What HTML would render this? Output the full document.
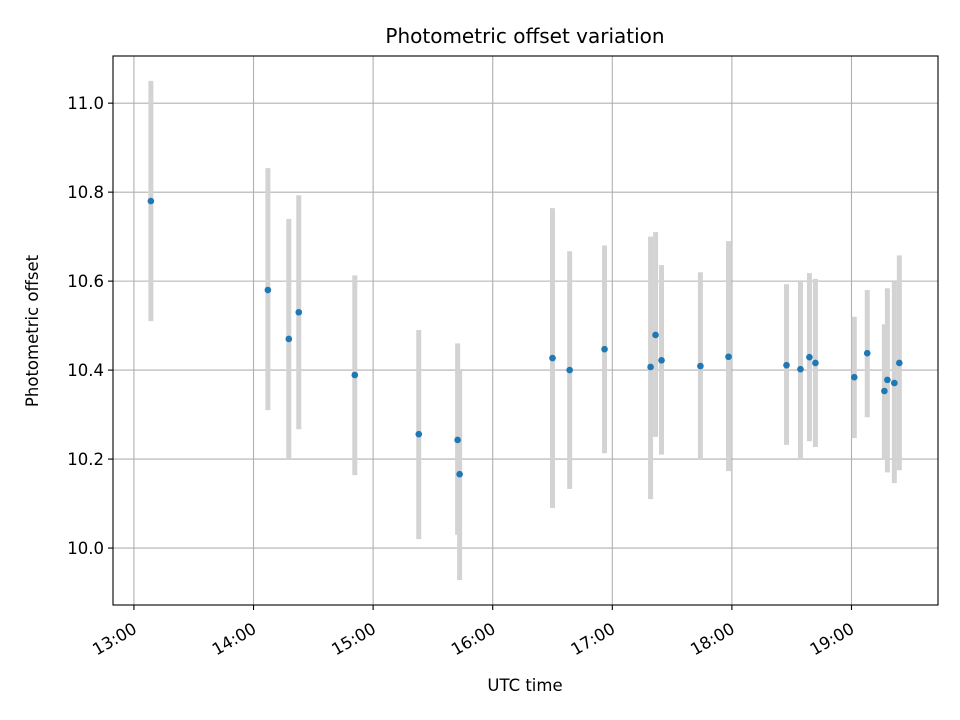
<!DOCTYPE html>
<html><head><meta charset="utf-8"><style>
html,body{margin:0;padding:0;background:#fff;}
svg{display:block;font-family:"DejaVu Sans","Liberation Sans",sans-serif;}
</style></head><body>
<svg id="chart" width="960" height="720" viewBox="0 0 960 720">
<rect x="0" y="0" width="960" height="720" fill="#fff"/>
<g id="grid"></g>
<g id="errs"></g>
<g id="pts"></g>
<rect x="113" y="56" width="825" height="549" fill="none" stroke="#000" stroke-width="1.1"/>
<g id="xticks"></g>
<g id="yticks"></g>
<text x="525" y="43" text-anchor="middle" font-size="20">Photometric offset variation</text>
<text x="525" y="691" text-anchor="middle" font-size="16.5">UTC time</text>
<text x="38" y="331" text-anchor="middle" font-size="16.5" transform="rotate(-90 38 331)">Photometric offset</text>
</svg>
<script>
// minutes since 13:00 UTC
const times = [8.5,67.2,77.7,82.7,110.8,142.9,162.4,163.4,210,218.6,236.1,259.2,261.7,264.7,284.2,298.3,327.4,334.4,338.9,341.9,361.4,367.9,376.5,378,381.5,384];
const values = [10.78,10.58,10.47,10.53,10.389,10.256,10.243,10.166,10.427,10.4,10.447,10.407,10.479,10.422,10.409,10.43,10.411,10.402,10.429,10.416,10.384,10.438,10.353,10.378,10.371,10.416];
const upper = [11.05,10.854,10.74,10.793,10.613,10.49,10.46,10.40,10.764,10.667,10.68,10.70,10.71,10.636,10.62,10.69,10.593,10.602,10.618,10.605,10.52,10.58,10.503,10.584,10.6,10.658];
const lower = [10.51,10.31,10.2,10.267,10.164,10.02,10.03,9.928,10.09,10.133,10.213,10.11,10.25,10.21,10.2,10.173,10.232,10.2,10.24,10.227,10.247,10.294,10.2,10.17,10.146,10.175];
const xTickMinutes = [0,60,120,180,240,300,360];
const xTickLabels = ["13:00","14:00","15:00","16:00","17:00","18:00","19:00"];
const yTickValues = [10.0,10.2,10.4,10.6,10.8,11.0];
const yTickLabels = ["10.0","10.2","10.4","10.6","10.8","11.0"];

const NS="http://www.w3.org/2000/svg";
const X0=113,X1=938,Y0=56,Y1=605;
const xMin=-10.5,xMax=403.4,yMin=9.872,yMax=11.106;
const sx=m=>X0+(m-xMin)/(xMax-xMin)*(X1-X0);
const sy=v=>Y1-(v-yMin)/(yMax-yMin)*(Y1-Y0);
function mk(tag,attrs,parent){const e=document.createElementNS(NS,tag);for(const k in attrs)e.setAttribute(k,attrs[k]);parent.appendChild(e);return e;}
const grid=document.getElementById('grid'),xt=document.getElementById('xticks'),yt=document.getElementById('yticks');
xTickMinutes.forEach((m,i)=>{
  const x=sx(m);
  const g=mk('line',{x1:x,x2:x,y1:Y0,y2:Y1,stroke:'#b0b0b0','stroke-width':1.1},grid);
  
  
  const t=mk('line',{x1:x,x2:x,y1:Y1,y2:Y1+5,stroke:'#000','stroke-width':1.1},xt);
  
  
  const ax=x+4,ay=Y1+27;
  const l=mk('text',{x:ax,y:ay,'text-anchor':'end','font-size':16.5,transform:`rotate(-30 ${ax} ${ay})`},xt);
  l.textContent=xTickLabels[i];
  
  
});
yTickValues.forEach((v,i)=>{
  const y=sy(v);
  const g=mk('line',{x1:X0,x2:X1,y1:y,y2:y,stroke:'#b0b0b0','stroke-width':1.1},grid);
  
  
  const t=mk('line',{x1:X0-5,x2:X0,y1:y,y2:y,stroke:'#000','stroke-width':1.1},yt);
  
  
  const l=mk('text',{x:X0-9,y:y+6,'text-anchor':'end','font-size':16.5},yt);
  l.textContent=yTickLabels[i];
  
  
});
const errs=document.getElementById('errs'),pts=document.getElementById('pts');
times.forEach((m,i)=>{
  const x=sx(m);
  const e=mk('line',{x1:x,x2:x,y1:sy(upper[i]),y2:sy(lower[i]),stroke:'#d3d3d3','stroke-width':5},errs);
  
  
  const c=mk('circle',{cx:x,cy:sy(values[i]),r:3.3,fill:'#1f77b4'},pts);
  
  
});
</script>
</body></html>
